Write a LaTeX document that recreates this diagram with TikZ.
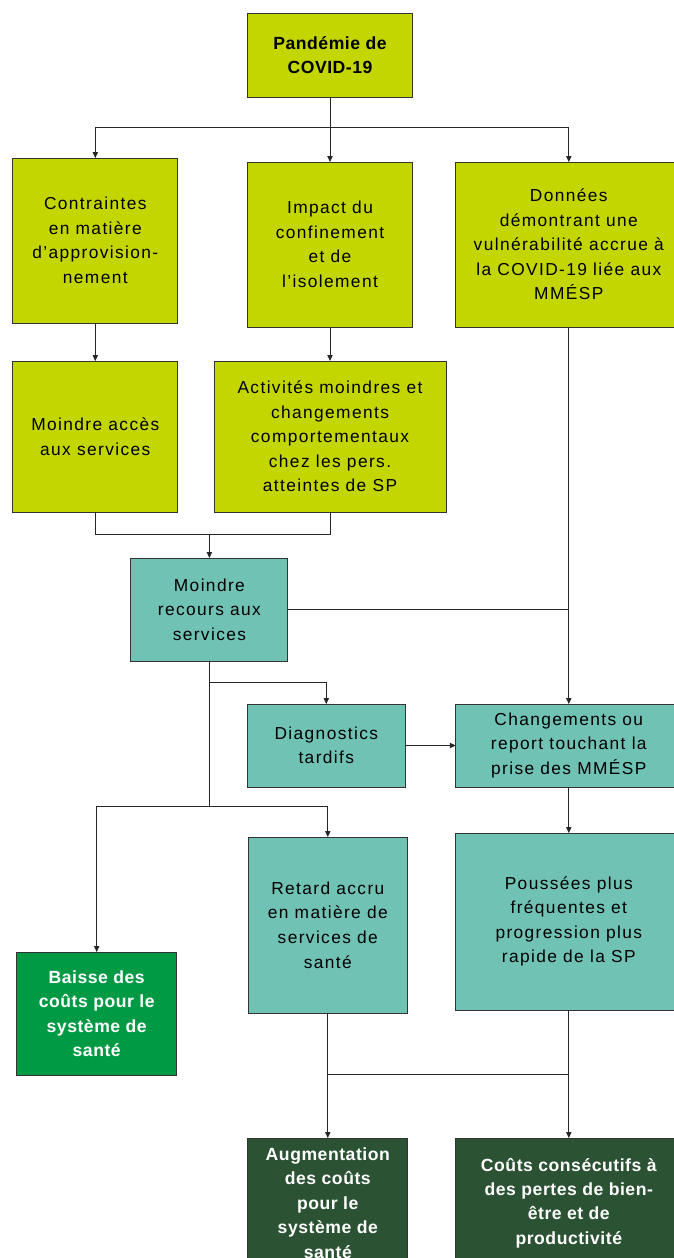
\documentclass[tikz,border=0pt]{standalone}
\usepackage{fontspec}
\setmainfont{Liberation Sans}
\newfontfamily\regf[LetterSpace=8]{Liberation Sans}
\newfontfamily\boldf[LetterSpace=3]{Liberation Sans}
\usetikzlibrary{arrows.meta}
\definecolor{lime}{RGB}{196,214,0}
\definecolor{teal2}{RGB}{112,194,180}
\definecolor{green2}{RGB}{0,154,68}
\definecolor{dkgreen}{RGB}{44,82,52}
\tikzset{
  boxbase/.style={draw=black!80, line width=0.7pt, inner sep=0pt, outer sep=0pt, align=center},
  limebox/.style={boxbase, fill=lime, font=\regf\fontsize{13}{18.4}\selectfont},
  tealbox/.style={boxbase, fill=teal2, font=\regf\fontsize{13}{18.4}\selectfont},
  greenbox/.style={boxbase, fill=green2, text=white, font=\boldf\bfseries\fontsize{13.2}{18.3}\selectfont},
  darkbox/.style={boxbase, fill=dkgreen, text=white, font=\boldf\bfseries\fontsize{13.2}{18.3}\selectfont},
  conn/.style={draw=black!85, line width=0.6pt},
  arr/.style={conn, -{Triangle[length=4.5pt,width=4pt]}},
}
\begin{document}
\begin{tikzpicture}[x=0.75pt,y=-0.75pt]
\useasboundingbox (0,0) rectangle (674,1258);
\fill[white] (0,0) rectangle (674,1258);
\clip (0,0) rectangle (674,1258);

\node[limebox, font=\boldf\bfseries\fontsize{13.2}{18.3}\selectfont, minimum width=123.75pt, minimum height=63pt] (top) at (330,55) {Pandémie de\\COVID-19};

\node[limebox, minimum width=123.75pt, minimum height=123.75pt] (A) at (95.3,240.5) {Contraintes\\en matière\\d’approvision-\\nement};
\node[limebox, minimum width=123.75pt, minimum height=123.75pt] (B) at (330,244.5) {Impact du\\confinement\\et de\\l’isolement};
\node[limebox, minimum width=169.5pt, minimum height=123.75pt] (C) at (568.8,244.5) {Données\\démontrant une\\vulnérabilité accrue à\\la COVID-19 liée aux\\MMÉSP};

\node[limebox, minimum width=123.75pt, minimum height=113.25pt] (D) at (95.3,436.5) {Moindre accès\\aux services};
\node[limebox, minimum width=174pt, minimum height=113.25pt] (E) at (330,436.5) {Activités moindres et\\changements\\comportementaux\\chez les pers.\\atteintes de SP};

\node[tealbox, minimum width=117.75pt, minimum height=77.25pt] (F) at (209.4,609.5) {Moindre\\recours aux\\services};

\node[tealbox, minimum width=118pt, minimum height=62.25pt] (G) at (326.3,745.5) {Diagnostics\\tardifs};
\node[tealbox, minimum width=169.5pt, minimum height=62.25pt] (H) at (568.8,745.5) {Changements ou\\report touchant la\\prise des MMÉSP};

\node[greenbox, minimum width=120pt, minimum height=92.25pt] (I) at (96.7,1013.5) {Baisse des\\coûts pour le\\système de\\santé};
\node[tealbox, minimum width=119.5pt, minimum height=132pt] (J) at (327.8,925) {Retard accru\\en matière de\\services de\\santé};
\node[tealbox, minimum width=169.5pt, minimum height=132.75pt] (K) at (568.8,921.5) {Poussées plus\\fréquentes et\\progression plus\\rapide de la SP};

\node[darkbox, minimum width=120pt, minimum height=97.5pt] (L) at (327.8,1203) {Augmentation\\des coûts\\pour le\\système de\\santé};
\node[darkbox, minimum width=169.5pt, minimum height=97.5pt] (M) at (568.8,1203) {Coûts consécutifs à\\des pertes de bien-\\être et de\\productivité};

% connectors
\coordinate (b1) at (330,127.3);
\draw[arr] (top) -- (B);
\draw[arr] (b1) -| (A);
\draw[arr] (b1) -| (C);

\draw[arr] (A) -- (D);
\draw[arr] (B) -- (E);

\coordinate (m1) at (209.4,534.7);
\draw[conn] (D) |- (m1);
\draw[conn] (E) |- (m1);
\draw[arr] (m1) -- (F);

\draw[arr] (C) -- (H);
\draw[conn] (F.east) -- (F.east -| H.north);

\coordinate (f1) at (209.4,682.7);
\coordinate (f2) at (209.4,806);
\draw[conn] (F) -- (f2);
\draw[arr] (f1) -| (G);
\draw[arr] (f2) -| (I);
\draw[arr] (f2) -| (J);

\draw[arr] (G) -- (H);
\draw[arr] (H) -- (K);

\draw[arr] (J) -- (L);
\draw[arr] (K) -- (M);
\coordinate (k1) at (568.8,1074.3);
\draw[conn] (k1) -- (k1 -| L.north);
\end{tikzpicture}
\end{document}
